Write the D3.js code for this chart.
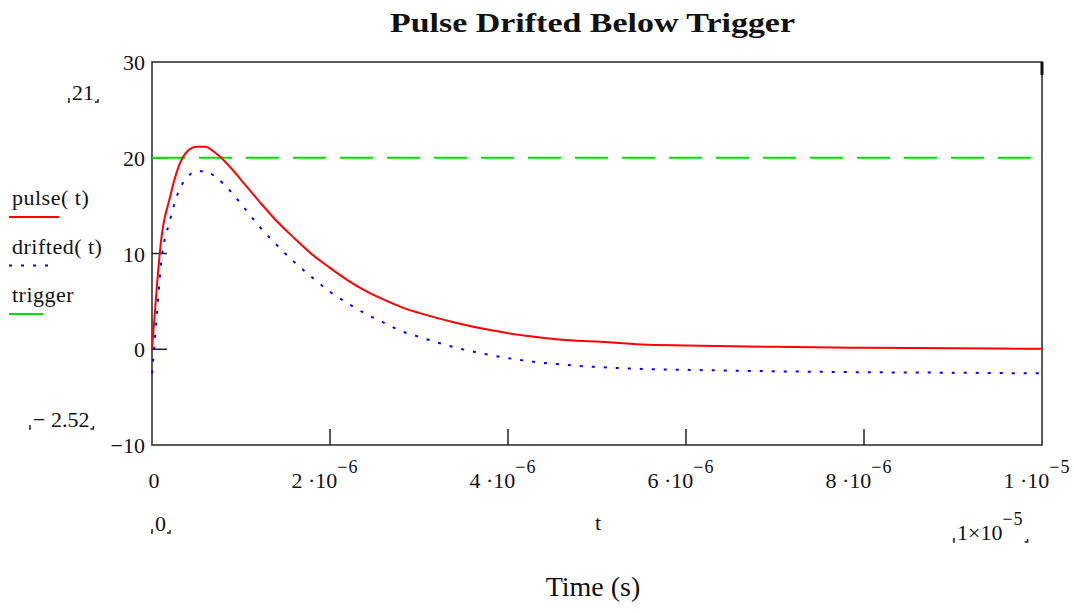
<!DOCTYPE html>
<html>
<head>
<meta charset="utf-8">
<script src="https://cdn.jsdelivr.net/npm/d3@7/dist/d3.min.js"></script>
<style>
  body { margin: 0; background: #fff; }
  svg text { font-family: "Liberation Serif", "Times New Roman", serif; fill: #111; }
</style>
</head>
<body>
<div id="canvas"></div>
<script>
// time samples (seconds)
var times = [0, 0.05e-6, 0.1e-6, 0.2e-6, 0.3e-6, 0.4e-6, 0.5e-6, 0.6e-6, 0.7e-6, 0.8e-6, 0.9e-6,
  1.0e-6, 1.2e-6, 1.4e-6, 1.6e-6, 1.8e-6, 2.0e-6, 2.2e-6, 2.4e-6, 2.6e-6, 2.8e-6, 3.0e-6,
  3.4e-6, 3.8e-6, 4.2e-6, 4.6e-6, 5.0e-6, 5.5e-6, 6.0e-6, 7.0e-6, 8.0e-6, 9.0e-6, 1.0e-5];

// pulse(t)
var pulse = [0, 6.0, 11.2, 15.8, 19.1, 20.7, 21.15, 21.15, 20.6, 19.8, 18.8,
  17.7, 15.5, 13.4, 11.6, 9.9, 8.5, 7.2, 6.1, 5.2, 4.4, 3.8,
  2.8, 2.0, 1.4, 1.0, 0.8, 0.5, 0.4, 0.25, 0.15, 0.1, 0.05];

// drifted(t)
var drifted = [-2.52, 3.0, 8.8, 13.4, 16.5, 18.0, 18.6, 18.6, 18.1, 17.3, 16.3,
  15.2, 12.9, 10.9, 9.1, 7.5, 6.0, 4.8, 3.7, 2.8, 1.9, 1.3,
  0.2, -0.6, -1.2, -1.6, -1.85, -2.05, -2.15, -2.3, -2.4, -2.45, -2.52];

var triggerLevel = 20;

var yTicks = [30, 20, 10, 0, -10];
var xTicks = [0, 2e-6, 4e-6, 6e-6, 8e-6, 1e-5];
var xTickMant = ["0", "2", "4", "6", "8", "1"];
var xTickExp = ["", "−6", "−6", "−6", "−6", "−5"];

var legendNames = ["pulse( t)", "drifted( t)", "trigger"];
var legendColors = ["#ff0000", "#0000ff", "#00e000"];
var legendDash = [null, "3,9", "33,14"];

var svg = d3.select('#canvas').append('svg')
  .attr('width', 1074)
  .attr('height', 613);

var x = d3.scaleLinear().domain([0, 1e-5]).range([152, 1042]);
var y = d3.scaleLinear().domain([-10, 30]).range([445, 62]);

// title
svg.append('text')
  .attr('x', 390).attr('y', 32)
  .attr('font-size', 28).attr('font-weight', 'bold')
  .attr('textLength', 405).attr('lengthAdjust', 'spacingAndGlyphs')
  .text('Pulse Drifted Below Trigger');

// frame
svg.append('rect')
  .attr('x', x(0)).attr('y', y(30))
  .attr('width', x(1e-5) - x(0)).attr('height', y(-10) - y(30))
  .attr('fill', 'none').attr('stroke', '#333').attr('stroke-width', 1.6);
svg.append('line')
  .attr('x1', x(1e-5)).attr('x2', x(1e-5))
  .attr('y1', y(30)).attr('y2', y(30) + 13)
  .attr('stroke', '#111').attr('stroke-width', 3);

// inner ticks
svg.selectAll('.ytick').data(yTicks.slice(1, 4)).enter().append('line')
  .attr('x1', x(0)).attr('x2', x(0) + 15)
  .attr('y1', function(d) { return y(d); }).attr('y2', function(d) { return y(d); })
  .attr('stroke', '#222').attr('stroke-width', 1.5);
svg.selectAll('.xtick').data(xTicks.slice(1, 5)).enter().append('line')
  .attr('x1', function(d) { return x(d); }).attr('x2', function(d) { return x(d); })
  .attr('y1', y(-10)).attr('y2', y(-10) - 16)
  .attr('stroke', '#222').attr('stroke-width', 1.5);

// tick labels
svg.selectAll('.ylab').data(yTicks).enter().append('text')
  .attr('x', 145).attr('y', function(d) { return y(d) + 8; })
  .attr('text-anchor', 'end').attr('font-size', 22)
  .text(function(d) { return d < 0 ? '−' + Math.abs(d) : d; });

var xl = svg.selectAll('.xlab').data(xTicks).enter().append('text')
  .attr('x', function(d, i) { return x(d) + (i === 0 ? 2 : -5); })
  .attr('y', 488)
  .attr('text-anchor', 'middle').attr('font-size', 22);
xl.append('tspan').text(function(d, i) { return i === 0 ? '0' : xTickMant[i] + ' ·10'; });
xl.append('tspan').attr('dy', -15).attr('font-size', 18).attr('letter-spacing', 1)
  .text(function(d, i) { return xTickExp[i]; });

// lines
var line = d3.line()
  .x(function(d) { return x(d[0]); })
  .y(function(d) { return y(d[1]); })
  .curve(d3.curveMonotoneX);

svg.append('line')
  .attr('x1', x(0)).attr('x2', x(1e-5))
  .attr('y1', y(triggerLevel)).attr('y2', y(triggerLevel))
  .attr('stroke', legendColors[2]).attr('stroke-width', 2)
  .attr('stroke-dasharray', legendDash[2]);

svg.append('path')
  .datum(d3.zip(times, drifted))
  .attr('d', line)
  .attr('fill', 'none').attr('stroke', legendColors[1]).attr('stroke-width', 2)
  .attr('stroke-dasharray', legendDash[1]);

svg.append('path')
  .datum(d3.zip(times, pulse))
  .attr('d', line)
  .attr('fill', 'none').attr('stroke', legendColors[0]).attr('stroke-width', 2);

// legend on the left
var lg = svg.selectAll('.leg').data(legendNames).enter().append('g')
  .attr('transform', function(d, i) { return 'translate(0,' + (i * 48.5) + ')'; });
lg.append('text')
  .attr('x', 12).attr('y', 205).attr('font-size', 22)
  .attr('letter-spacing', 0.5)
  .text(function(d) { return d; });
lg.append('line')
  .attr('x1', 9).attr('y1', 217)
  .attr('x2', function(d, i) { return [59, 50, 43][i]; }).attr('y2', 217)
  .attr('stroke', function(d, i) { return legendColors[i]; })
  .attr('stroke-width', 2)
  .attr('stroke-dasharray', function(d, i) { return i === 1 ? '3,9' : null; });

// range markers (Mathcad style)
var rangeLabels = [
  {txt: '21', sup: '', x: 72, y: 100},
  {txt: '− 2.52', sup: '', x: 33, y: 427},
  {txt: '0', sup: '', x: 155, y: 531},
  {txt: '1×10', sup: '−5', x: 957, y: 540}
];
rangeLabels.forEach(function(r) {
  var t = svg.append('text').attr('x', r.x).attr('y', r.y).attr('font-size', 22);
  t.append('tspan').text(r.txt);
  if (r.sup) t.append('tspan').attr('dy', -15).attr('font-size', 18).attr('letter-spacing', 1).text(r.sup);
  var w = t.node().getComputedTextLength();
  svg.append('path')
    .attr('d', 'M' + (r.x - 3) + ',' + (r.y - 2) + 'v4h-1')
    .attr('stroke', '#222').attr('fill', 'none').attr('stroke-width', 1.5);
  svg.append('path')
    .attr('d', 'M' + (r.x + w + 4) + ',' + (r.y - 1) + 'v3h-3')
    .attr('stroke', '#222').attr('fill', 'none').attr('stroke-width', 1.5);
});

// axis variable and title
svg.append('text')
  .attr('x', 598).attr('y', 530).attr('text-anchor', 'middle').attr('font-size', 22)
  .text('t');
svg.append('text')
  .attr('x', 593).attr('y', 596).attr('text-anchor', 'middle').attr('font-size', 28)
  .text('Time (s)');
</script>
</body>
</html>
